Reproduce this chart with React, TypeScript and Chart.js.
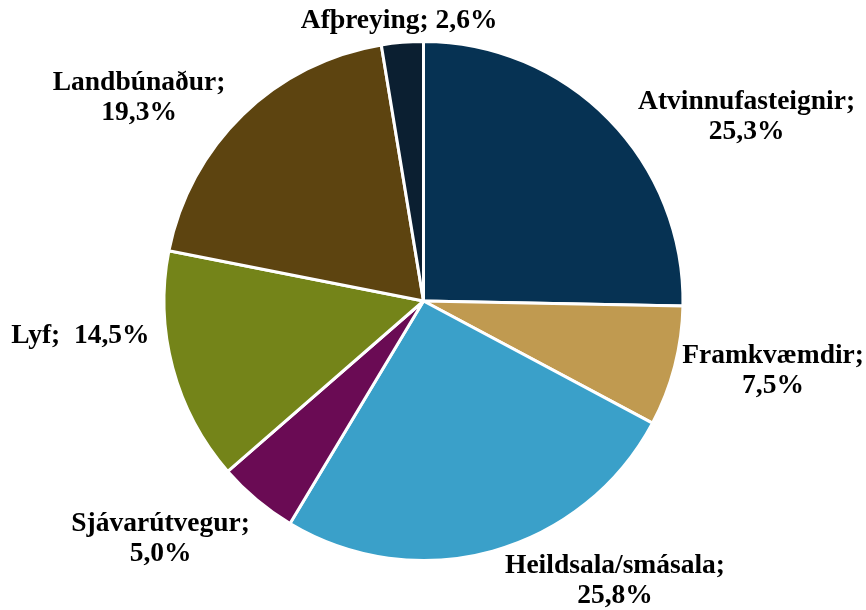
import React, { useEffect, useRef } from "react";
import { Chart, registerables } from "chart.js";

Chart.register(...registerables);

const categories = [
  "Atvinnufasteignir",
  "Framkvæmdir",
  "Heildsala/smásala",
  "Sjávarútvegur",
  "Lyf",
  "Landbúnaður",
  "Afþreying",
];
const shares = [25.3, 7.5, 25.8, 5.0, 14.5, 19.3, 2.6];
const sliceColors = [
  "#063253",
  "#c09a50",
  "#3aa0c9",
  "#6a0b54",
  "#748419",
  "#5d4410",
  "#0b1f31",
];
// label text lines (category; value), split as in the reference
const labelLines: string[][] = [
  ["Atvinnufasteignir;", "25,3%"],
  ["Framkvæmdir;", "7,5%"],
  ["Heildsala/smásala;", "25,8%"],
  ["Sjávarútvegur;", "5,0%"],
  ["Lyf;  14,5%"],
  ["Landbúnaður;", "19,3%"],
  ["Afþreying; 2,6%"],
];
// label block centres relative to pie centre, in units of the pie radius
const labelOffsets: [number, number][] = [
  [1.245, -0.709],
  [1.347, 0.27],
  [0.738, 1.079],
  [-1.013, 0.917],
  [-1.322, 0.135],
  [-1.096, -0.782],
  [-0.094, -1.079],
];

const labelPlugin = {
  id: "pieLabels",
  afterDatasetsDraw(chart: any) {
    const meta = chart.getDatasetMeta(0);
    const ctx = chart.ctx;
    ctx.save();
    ctx.font = 'bold 27.5px "Liberation Serif", "Times New Roman", serif';
    ctx.fillStyle = "#000000";
    ctx.textAlign = "center";
    ctx.textBaseline = "middle";
    const lineH = 30;
    meta.data.forEach((arc: any, i: number) => {
      const R = arc.outerRadius;
      const cx = arc.x + labelOffsets[i][0] * R;
      const cy = arc.y + labelOffsets[i][1] * R;
      const lines = labelLines[i];
      const top = cy - ((lines.length - 1) * lineH) / 2;
      lines.forEach((t, k) => ctx.fillText(t, cx, top + k * lineH));
    });
    ctx.restore();
  },
};

export default function App() {
  const ref = useRef<HTMLCanvasElement>(null);
  useEffect(() => {
    if (!ref.current) return;
    const chart = new Chart(ref.current, {
      type: "pie",
      data: {
        labels: categories,
        datasets: [
          {
            data: shares,
            backgroundColor: sliceColors,
            borderColor: "#ffffff",
            borderWidth: 3,
          },
        ],
      },
      options: {
        responsive: false,
        animation: false,
        layout: { padding: { top: 40, bottom: 48, left: 162.5, right: 181.5 } },
        plugins: {
          legend: { display: false },
          tooltip: { enabled: false },
        },
      },
      plugins: [labelPlugin],
    });
    return () => chart.destroy();
  }, []);
  return (
    <canvas
      ref={ref}
      width={866}
      height={610}
      style={{ position: "fixed", left: 0, top: 0, display: "block" }}
    />
  );
}
